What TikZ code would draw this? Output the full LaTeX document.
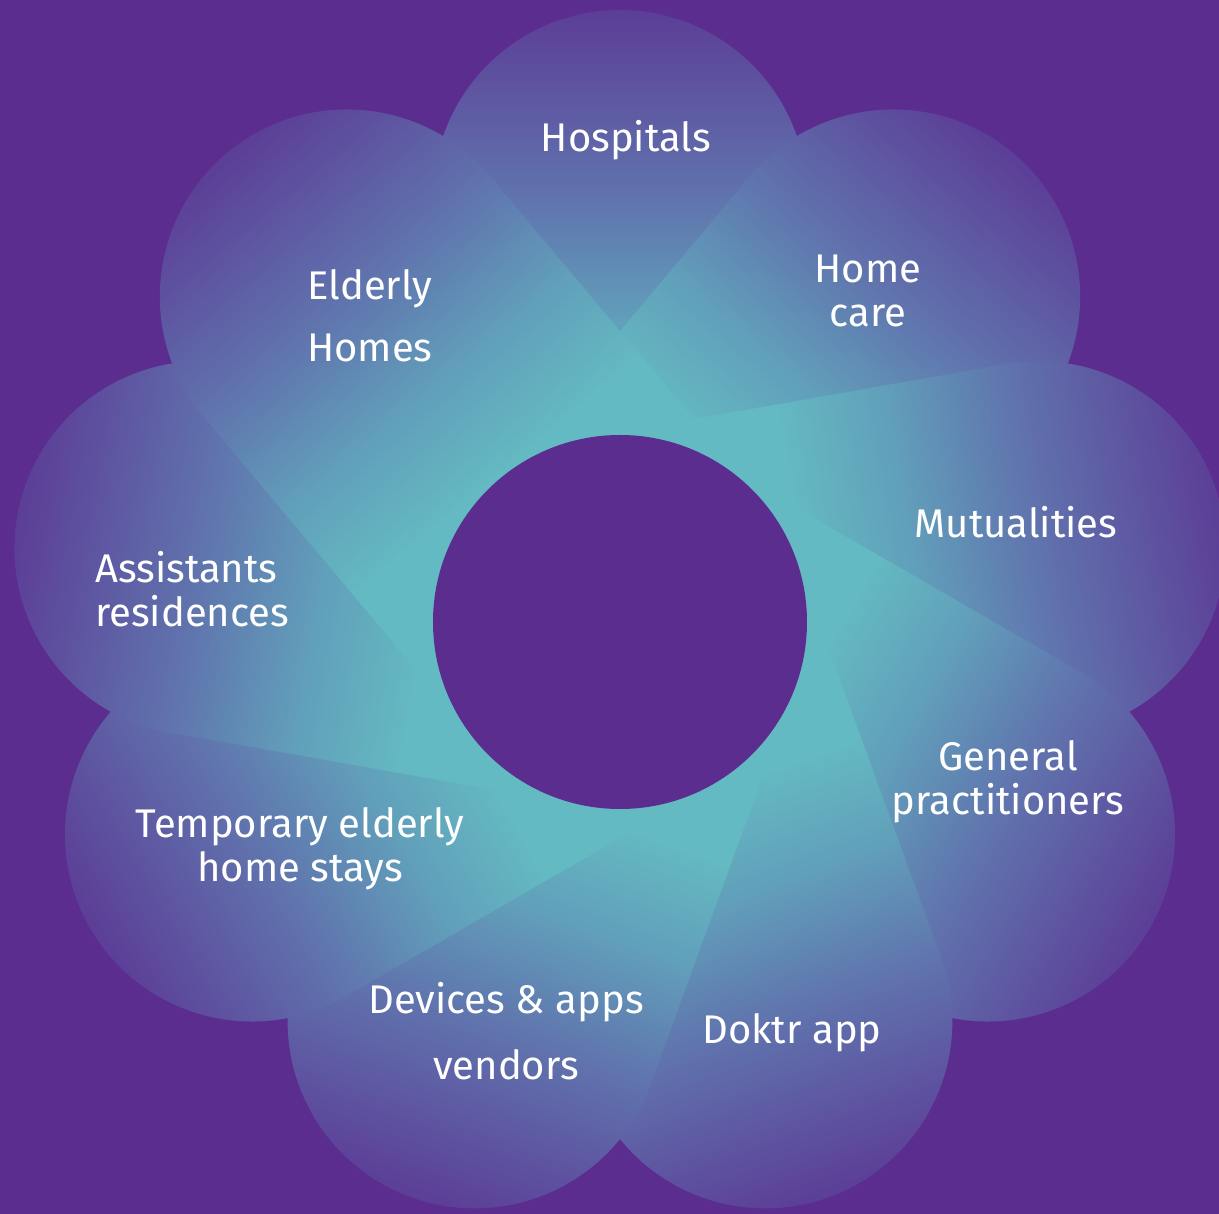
\documentclass[tikz,border=0pt]{standalone}
\usepackage{fontspec}
\setmainfont{Fira Sans}
\definecolor{bgpurple}{HTML}{5A2D8E}
\definecolor{pa}{HTML}{64BAC2}
\definecolor{pb}{HTML}{619FBA}
\definecolor{pc}{HTML}{6075AE}
\definecolor{pd}{HTML}{5E58A2}
\definecolor{pe}{HTML}{5C3E97}
\pgfdeclareverticalshading{petalshade}{100bp}{color(0bp)=(pa); color(40.3bp)=(pa); color(49.5bp)=(pb); color(59.3bp)=(pc); color(67.5bp)=(pd); color(75bp)=(pe); color(100bp)=(pe)}
\begin{document}
\begin{tikzpicture}[x=1pt,y=1pt,
  petaltext/.style={text=white, font=\fontsize{40}{44}\selectfont, align=center, inner sep=0pt}]
\useasboundingbox (-620,-592) rectangle (599,622);
\fill[bgpurple] (-620,-592) rectangle (599,622);
\foreach \t in {90,50,10,-30,-70,-110,-150,170,130} {
  \begin{scope}[transform canvas={rotate=\t-90}]
    \shade[shading=petalshade] (-187,0) -- (-187,425) arc[start angle=180,end angle=0,radius=187] -- (187,0) -- cycle;
  \end{scope}
}
\node[circle, fill=bgpurple, minimum size=374pt, inner sep=0pt] (hub) at (0,0) {};
\node[petaltext] (hosp) at (6,482) {Hospitals};
\node[petaltext] (homecare) at (248,331) {Home\\care};
\node[petaltext] (mutu) at (396,100) {Mutualities};
\node[petaltext] (gp) at (388,-160) {General\\practitioners};
\node[petaltext] (doktr) at (172,-411) {Doktr app};
\node[petaltext] (devices) at (-114,-409) {Devices \& apps\\[22pt]vendors};
\node[petaltext] (temp) at (-320,-227) {Temporary elderly\\home stays};
\node[petaltext, align=left, anchor=west] (assist) at (-525,33) {Assistants\\residences};
\node[petaltext] (elderly) at (-250,306) {Elderly\\[18pt]Homes};
\end{tikzpicture}
\end{document}
